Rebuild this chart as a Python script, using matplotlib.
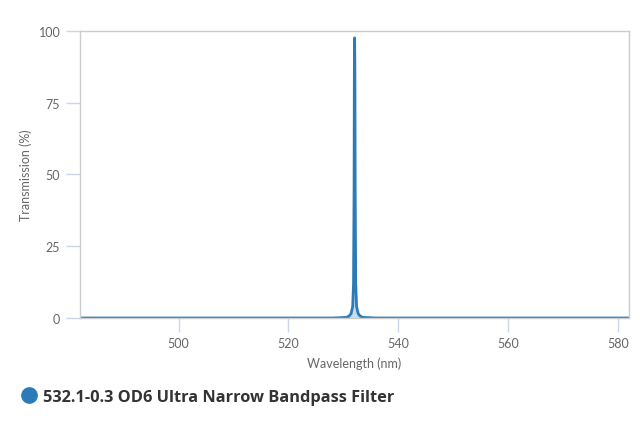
import matplotlib
matplotlib.use("Agg")
import matplotlib.pyplot as plt
from matplotlib.lines import Line2D

# Transmission spectrum (nm, %)
wavelength = [482.0, 528.0, 530.5, 531.0, 531.4, 531.7, 531.85, 531.95, 532.0,
              532.05, 532.1, 532.15, 532.25, 532.4, 532.7, 533.1, 533.6, 536.0, 582.0]
transmission = [0.0, 0.0, 0.2, 0.6, 1.5, 4.0, 12.0, 45.0, 85.0,
                97.5, 85.0, 45.0, 12.0, 4.0, 1.5, 0.6, 0.2, 0.0, 0.0]

series_name = "532.1-0.3 OD6 Ultra Narrow Bandpass Filter"
x_ticks = [500, 520, 540, 560, 580]
y_ticks = [0, 25, 50, 75, 100]

line_color = "#2b7bb9"
grid_color = "#ccd6eb"
label_color = "#666666"

plt.rcParams['font.family'] = ['Lato', 'DejaVu Sans']

fig = plt.figure(figsize=(6.4, 4.27), dpi=100)
ax = fig.add_axes([79.7 / 640, 1 - 319 / 427, (629 - 79.7) / 640, (319 - 31.7) / 427])

ax.fill_between(wavelength, transmission, 0, color=line_color, alpha=0.25, lw=0)
ax.plot(wavelength, transmission, color=line_color, lw=2, solid_joinstyle='round')

ax.set_xlim(482, 582)
ax.set_ylim(0, 100)
ax.set_xticks(x_ticks)
ax.set_yticks(y_ticks)

# light box around plot area
for side in ["top", "right", "left", "bottom"]:
    ax.spines[side].set_color("#cccccc")
    ax.spines[side].set_linewidth(1)

ax.tick_params(axis='x', length=10, width=1, color=grid_color, labelcolor=label_color,
               labelsize=9, pad=4)
ax.tick_params(axis='y', length=10, width=1, color=grid_color, labelcolor=label_color,
               labelsize=9, pad=4)

ax.set_xlabel("Wavelength (nm)", color=label_color, fontsize=9, labelpad=5)
ax.set_ylabel("Transmission (%)", color=label_color, fontsize=9, labelpad=5)

# legend below the chart
handle = Line2D([], [], marker='o', ls='none', color=line_color, markersize=11)
fig.legend([handle], [series_name], loc='center left', bbox_to_anchor=(0.009, 1 - 398 / 427),
           frameon=False, handletextpad=0.4, handlelength=1.0,
           prop={'family': ['Open Sans', 'DejaVu Sans'], 'weight': 'bold', 'size': 11.8})
leg = fig.legends[0]
for t in leg.get_texts():
    t.set_color("#333333")

fig.savefig("out.png", dpi=100)
